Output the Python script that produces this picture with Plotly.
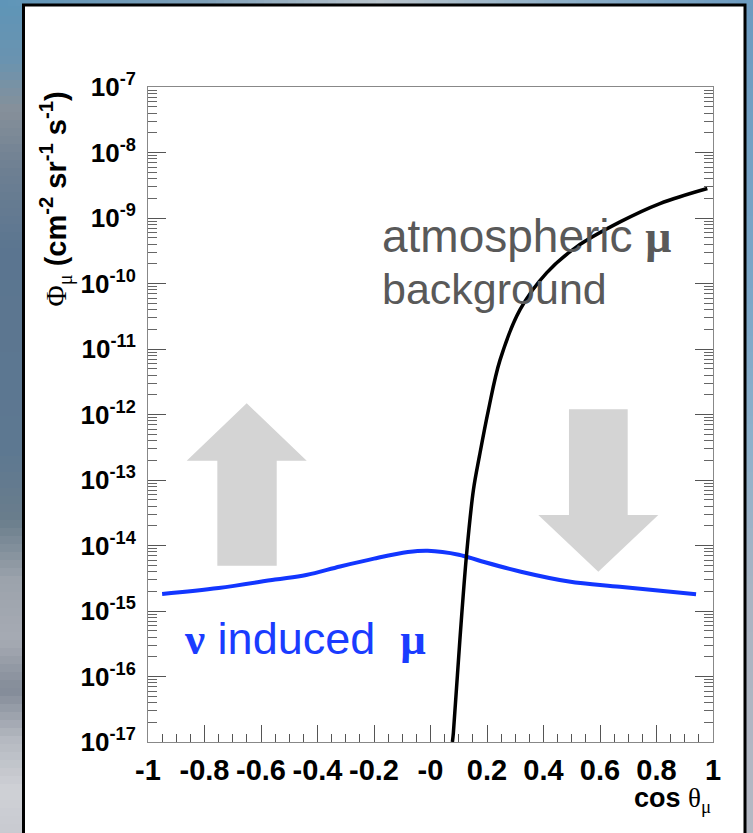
import plotly.graph_objects as go

# ---------------- data ----------------
nu_cos = [-0.95, -0.75, -0.55, -0.44, -0.32, -0.20, -0.08, -0.01, 0.10, 0.18, 0.32, 0.49, 0.67, 0.94]
nu_flux = [1.82e-15, 2.24e-15, 3.02e-15, 3.55e-15, 4.79e-15, 6.31e-15, 7.94e-15, 8.32e-15,
           7.24e-15, 5.75e-15, 3.98e-15, 2.82e-15, 2.34e-15, 1.80e-15]

atm_cos = [0.0775, 0.081, 0.104, 0.128, 0.152, 0.173, 0.205, 0.246, 0.317, 0.411, 0.517, 0.671, 0.812, 0.980]
atm_flux = [1.0e-17, 1.38e-17, 3.63e-16, 7.59e-15, 7.08e-14, 2.29e-13, 1.17e-12, 6.76e-12,
            3.98e-11, 1.45e-10, 3.63e-10, 8.71e-10, 1.66e-9, 2.82e-9]

x_tickvals = [-1, -0.8, -0.6, -0.4, -0.2, 0, 0.2, 0.4, 0.6, 0.8, 1]
x_ticktext = ["-1", "-0.8", "-0.6", "-0.4", "-0.2", "-0", "0.2", "0.4", "0.6", "0.8", "1"]

y_tickvals = [1e-17, 1e-16, 1e-15, 1e-14, 1e-13, 1e-12, 1e-11, 1e-10, 1e-9, 1e-8, 1e-7]
y_exponents = ["-17", "-16", "-15", "-14", "-13", "-12", "-11", "-10", "-9", "-8", "-7"]

# ---------------- geometry helpers (decoration only) ----------------
W, H = 753, 833
L, R, T, B = 148, 40, 87, 91
PW, PH = W - L - R, H - T - B


def fx(px):
    return (px - L) / PW


def fy(py):
    return (H - B - py) / PH


def hex2rgb(h):
    h = h.lstrip('#')
    return tuple(int(h[i:i + 2], 16) for i in (0, 2, 4))


def interp(stops, v):
    for (a, ca), (b, cb) in zip(stops[:-1], stops[1:]):
        if a <= v <= b:
            t = (v - a) / (b - a) if b > a else 0
            c1, c2 = hex2rgb(ca), hex2rgb(cb)
            c = [round(c1[i] + (c2[i] - c1[i]) * t) for i in range(3)]
            return 'rgb(%d,%d,%d)' % tuple(c)
    return stops[-1][1]


left_stops = [(0, '#5e95b8'), (60, '#6a93b0'), (110, '#86909a'), (170, '#6d7f92'), (250, '#5b7590'),
              (450, '#5d7891'), (520, '#6a7d8c'), (580, '#9ca3ac'), (640, '#a6abb3'), (690, '#838b98'),
              (740, '#b5b9c1'), (790, '#cfd1d6'), (833, '#c8cad0')]
right_stops = [(0, '#6c9bc0'), (300, '#7ca7c8'), (450, '#8fb1cb'), (600, '#aab4c2'), (833, '#b5b8c3')]
top_stops = [(0, '#5e95b8'), (200, '#7d9fb8'), (380, '#b9c4cc'), (560, '#8fb0c8'), (753, '#6c9bc0')]

shapes = []
step = 8
for y0 in range(0, H, step):
    yc = y0 + step / 2
    shapes.append(dict(type='rect', xref='paper', yref='paper', layer='below',
                       x0=fx(0), x1=fx(24), y0=fy(y0 + step), y1=fy(y0),
                       fillcolor=interp(left_stops, yc), line=dict(width=0)))
    shapes.append(dict(type='rect', xref='paper', yref='paper', layer='below',
                       x0=fx(744), x1=fx(W), y0=fy(y0 + step), y1=fy(y0),
                       fillcolor=interp(right_stops, yc), line=dict(width=0)))
for x0 in range(0, W, step):
    xc = x0 + step / 2
    shapes.append(dict(type='rect', xref='paper', yref='paper', layer='below',
                       x0=fx(x0), x1=fx(x0 + step), y0=fy(6), y1=fy(0),
                       fillcolor=interp(top_stops, xc), line=dict(width=0)))

# white panel with black frame
shapes.append(dict(type='rect', xref='paper', yref='paper', layer='below',
                   x0=fx(23.5), x1=fx(745), y0=fy(845), y1=fy(5),
                   fillcolor='white', line=dict(color='black', width=3)))


def path(pts):
    return 'M ' + ' L '.join('%.4f,%.4f' % (fx(a), fy(b)) for a, b in pts) + ' Z'


up_arrow = [(246.7, 403.3), (306.7, 460.7), (276.7, 460.7), (276.7, 565.7),
            (217.3, 565.7), (217.3, 460.7), (186.7, 460.7)]
down_arrow = [(598.3, 571.7), (658.3, 515), (627.7, 515), (627.7, 409.3),
              (569, 409.3), (569, 515), (538.3, 515)]
for arr in (up_arrow, down_arrow):
    shapes.append(dict(type='path', xref='paper', yref='paper', layer='below',
                       path=path(arr), fillcolor='#d4d4d4', line=dict(width=0)))

# ---------------- figure ----------------
fig = go.Figure()
fig.add_trace(go.Scatter(x=nu_cos, y=nu_flux, mode='lines', line=dict(color='#1236ff', width=4, shape='spline'),
                         showlegend=False, hoverinfo='skip'))
fig.add_trace(go.Scatter(x=atm_cos, y=atm_flux, mode='lines', line=dict(color='black', width=3.5, shape='spline'),
                         showlegend=False, hoverinfo='skip'))

y_ticktext = ["10<sup>%s</sup>" % e for e in y_exponents]

fig.update_layout(
    width=W, height=H,
    margin=dict(l=L, r=R, t=T, b=B, pad=0),
    paper_bgcolor='#6d8aa3', plot_bgcolor='white',
    shapes=shapes,
    xaxis=dict(range=[-1, 1], tickmode='array', tickvals=x_tickvals, ticktext=x_ticktext,
               ticks='inside', ticklen=17, tickcolor='#555', tickwidth=1,
               minor=dict(dtick=0.05, tick0=-1, ticks='inside', ticklen=8, tickcolor='#555', showgrid=False),
               showline=True, linecolor='#888', linewidth=1, mirror=True,
               showgrid=False, zeroline=False,
               tickfont=dict(family='Liberation Sans', size=29, color='black', weight='bold'),
               ticklabelstandoff=2),
    yaxis=dict(type='log', range=[-17, -7], tickmode='array', tickvals=y_tickvals, ticktext=y_ticktext,
               ticks='inside', ticklen=18, tickcolor='#555', tickwidth=1,
               minor=dict(ticks='inside', ticklen=9, tickcolor='#666', showgrid=False, dtick='D1'),
               showline=True, linecolor='#888', linewidth=1, mirror='ticks',
               showgrid=False, zeroline=False,
               tickfont=dict(family='Liberation Sans', size=26, color='black', weight='bold'),
               ticklabelstandoff=6),
)

serif = "font-family:'Liberation Serif'"
annotations = [
    dict(xref='paper', yref='paper', x=fx(56), y=fy(90), xanchor='center', yanchor='top', textangle=-90,
         showarrow=False,
         text="<span style=\"%s\">Φ<sub>μ</sub></span> <b>(cm<sup>-2</sup> sr<sup>-1</sup> s<sup>-1</sup>)</b>" % serif,
         font=dict(family='Liberation Sans', size=29, color='black')),
    dict(xref='paper', yref='paper', x=1.0, y=fy(800), xanchor='right', yanchor='middle', showarrow=False,
         text="<b>cos</b> <span style=\"%s\">θ<sub>μ</sub></span>" % serif,
         font=dict(family='Liberation Sans', size=27, color='black')),
    dict(xref='paper', yref='paper', x=fx(380), y=fy(236), xanchor='left', yanchor='middle', showarrow=False,
         text="atmospheric <span style=\"%s\"><b>μ</b></span>" % serif,
         font=dict(family='Liberation Sans', size=46, color='#595959')),
    dict(xref='paper', yref='paper', x=fx(380), y=fy(289), xanchor='left', yanchor='middle', showarrow=False,
         text="background",
         font=dict(family='Liberation Sans', size=43, color='#595959')),
    dict(xref='paper', yref='paper', x=fx(182), y=fy(638), xanchor='left', yanchor='middle', showarrow=False,
         text="<span style=\"%s\"><b>ν</b></span> induced&nbsp; <span style=\"%s\"><b>μ</b></span>" % (serif, serif),
         font=dict(family='Liberation Sans', size=45, color='#1a3cff')),
]
fig.update_layout(annotations=annotations)

fig.write_html("out.html")
